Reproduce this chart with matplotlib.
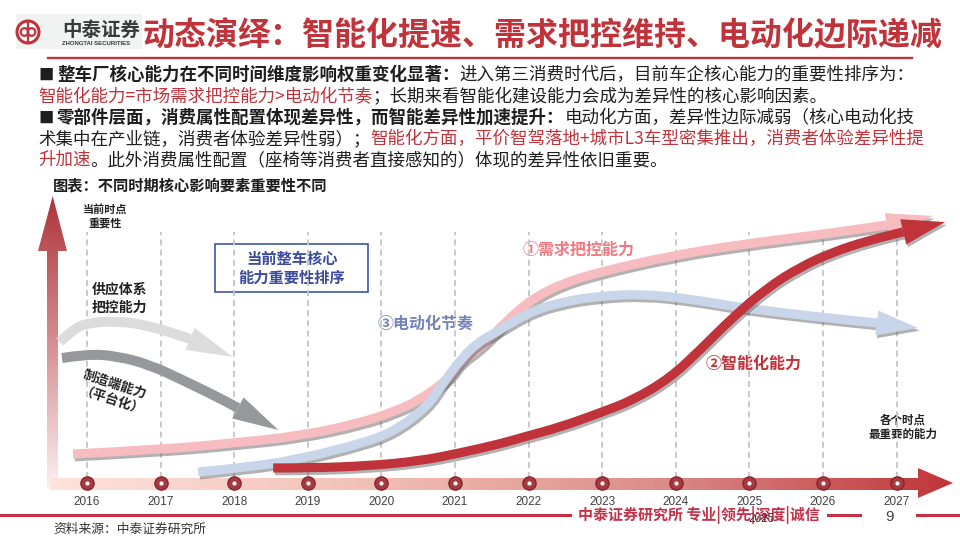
import numpy as np
import matplotlib
matplotlib.use('Agg')
import matplotlib.pyplot as plt
import matplotlib.patheffects as pe
from matplotlib.patches import Polygon, Rectangle, Circle, PathPatch
from matplotlib.path import Path
from matplotlib.colors import LinearSegmentedColormap

plt.rcParams['font.family'] = ['Noto Sans CJK SC', 'DejaVu Sans']

# ---- data (year, importance) ----
years = list(range(2016, 2028))

demand_x = [2015.81, 2017.09, 2017.98, 2018.89, 2019.71, 2020.16, 2020.52, 2020.93, 2021.07,
            2021.34, 2021.61, 2021.98, 2022.43, 2022.97, 2023.92, 2024.91, 2025.92, 2026.87, 2027.49]
demand_y = [12.4, 14.1, 16.2, 18.6, 23.1, 26.9, 31.0, 38.6, 44.1,
            49.0, 55.9, 64.8, 71.0, 75.2, 80.7, 84.8, 87.9, 91.4, 94.5]

elec_x = [2017.51, 2018.21, 2018.89, 2019.71, 2020.16, 2020.62, 2020.84, 2021.07, 2021.30,
          2021.52, 2021.98, 2022.43, 2022.97, 2023.55, 2024.19, 2024.91, 2025.92, 2026.73, 2027.29]
elec_y = [6.2, 7.9, 10.7, 15.9, 20.0, 28.6, 36.9, 44.8, 50.7,
          53.8, 61.0, 64.8, 66.9, 67.6, 65.9, 62.8, 59.7, 57.6, 55.9]

intel_x = [2018.53, 2019.04, 2019.80, 2020.52, 2021.07, 2021.61, 2021.98, 2022.43, 2022.97, 2023.42,
           2023.92, 2024.33, 2024.78, 2025.24, 2025.69, 2026.14, 2026.60, 2027.09, 2027.66]
intel_y = [7.6, 7.6, 8.3, 10.0, 12.8, 15.9, 18.6, 21.7, 26.6, 31.0,
           38.6, 48.3, 59.7, 69.7, 76.9, 82.1, 85.9, 89.0, 92.4]

supply_x = [2015.63, 2015.80, 2016.00, 2016.41, 2016.86, 2017.40, 2017.98]
supply_y = [51.0, 55.2, 57.6, 58.3, 56.6, 52.1, 45.9]

manuf_x = [2015.66, 2016.00, 2016.41, 2016.86, 2017.30, 2017.77, 2018.05, 2018.60]
manuf_y = [45.5, 46.9, 46.2, 43.1, 37.9, 32.1, 28.3, 20.7]

timeline_level = 2.4

RED = '#c0333a'

fig = plt.figure(figsize=(9.6, 5.4), dpi=100)
fig.patch.set_facecolor('white')

# background axes in slide pixels
bg = fig.add_axes([0, 0, 1, 1])
bg.set_xlim(0, 960)
bg.set_ylim(540, 0)
bg.axis('off')


def grad_poly(ax, verts, colors, horizontal, z):
    poly = Polygon(verts, closed=True, fc='none', ec='none')
    ax.add_patch(poly)
    xs, ys = zip(*verts)
    g = np.linspace(0, 1, 256)
    img = g[None, :] if horizontal else g[:, None]
    cmap = LinearSegmentedColormap.from_list('g', colors)
    im = ax.imshow(img, cmap=cmap, extent=(min(xs), max(xs), max(ys), min(ys)),
                   aspect='auto', interpolation='bilinear', zorder=z)
    im.set_clip_path(poly)


# vertical importance arrow and timeline arrow
grad_poly(bg, [(47, 488), (47, 251), (38, 251), (52.7, 196), (67, 251), (58, 251), (58, 488)],
          ['#ad3439', '#d58e91', '#fcf0f0'], False, 2)
grad_poly(bg, [(50, 478), (918, 478), (918, 468), (953, 483), (918, 498), (918, 490), (50, 490)],
          ['#fde3dc', '#f2c2b8', '#dc8f8c', '#c0353a'], True, 2)
bg.set_xlim(0, 960)
bg.set_ylim(540, 0)

# logo
bg.add_patch(Rectangle((16, 14), 126, 35, fc='#f1f2f2', ec='none'))
bg.add_patch(Circle((28, 32), 11, fc='white', ec=RED, lw=2.2))
bg.add_patch(Circle((24.5, 32), 3.8, fc='none', ec=RED, lw=1.6))
bg.add_patch(Circle((31.5, 32), 3.8, fc='none', ec=RED, lw=1.6))
bg.plot([28, 28], [22, 42], color=RED, lw=1.6)
bg.text(62, 30, '中泰证券', fontsize=14, fontweight='bold', color='#3a3a3a', va='center')
bg.text(62, 43.5, 'ZHONGTAI SECURITIES', fontsize=4.3, fontweight='bold', color='#3a3a3a',
        va='center', family='Liberation Sans')

# title
bg.text(142, 36, '动态演绎：智能化提速、需求把控维持、电动化边际递减', fontsize=23,
        fontweight='bold', color=RED, va='center')
bg.plot([48, 912], [58, 58], color=RED, lw=1.7)

renderer = fig.canvas.get_renderer()


def put_line(x, y, segs, size=12.6):
    for txt, color, bold in segs:
        t = bg.text(x, y, txt, fontsize=size, color=color, va='center',
                    fontweight='bold' if bold else 'normal')
        x += t.get_window_extent(renderer).width


DARK = '#1e1e1e'
bg.text(38, 75, '■', fontsize=11, color=DARK, va='center')
put_line(57, 75, [('整车厂核心能力在不同时间维度影响权重变化显著：', DARK, True),
                  ('进入第三消费时代后，目前车企核心能力的重要性排序为：', DARK, False)])
put_line(38, 97, [('智能化能力=市场需求把控能力>电动化节奏', RED, False),
                  ('；长期来看智能化建设能力会成为差异性的核心影响因素。', DARK, False)])
bg.text(38, 118, '■', fontsize=11, color=DARK, va='center')
put_line(57, 118, [('零部件层面，消费属性配置体现差异性，而智能差异性加速提升：', DARK, True),
                   ('电动化方面，差异性边际减弱（核心电动化技', DARK, False)])
put_line(38, 139, [('术集中在产业链，消费者体验差异性弱）；', DARK, False),
                   ('智能化方面，平价智驾落地+城市L3车型密集推出，消费者体验差异性提', RED, False)])
put_line(38, 160, [('升加速', RED, False),
                   ('。此外消费属性配置（座椅等消费者直接感知的）体现的差异性依旧重要。', DARK, False)])

bg.text(53, 185, '图表：不同时期核心影响要素重要性不同', fontsize=11, fontweight='bold',
        color=DARK, va='center')

# chart annotations
bg.text(105, 209, '当前时点', fontsize=8, fontweight='bold', color='#222', ha='center', va='center')
bg.text(105, 223, '重要性', fontsize=8, fontweight='bold', color='#222', ha='center', va='center')
bg.text(92, 290, '供应体系', fontsize=10, fontweight='bold', color='#222', va='center')
bg.text(92, 308, '把控能力', fontsize=10, fontweight='bold', color='#222', va='center')
bg.text(115, 384, '制造端能力', fontsize=9.5, fontweight='bold', color='#222', ha='center',
        va='center', rotation=-18, rotation_mode='anchor')
bg.text(111, 402, '（平台化）', fontsize=9.5, fontweight='bold', color='#222', ha='center',
        va='center', rotation=-18, rotation_mode='anchor')
bg.add_patch(Rectangle((215, 244), 153, 48, fill=False, ec='#3d56a6', lw=1.2))
bg.text(292, 259, '当前整车核心', fontsize=11, fontweight='bold', color='#3c4b9c', ha='center', va='center')
bg.text(292, 278, '能力重要性排序', fontsize=11, fontweight='bold', color='#3c4b9c', ha='center', va='center')
bg.text(378, 324, '③电动化节奏', fontsize=11.5, fontweight='bold', color='#7584b8', va='center')
bg.text(523, 250, '①需求把控能力', fontsize=11.5, fontweight='bold', color='#ef7b82', va='center')
bg.text(706, 364, '②智能化能力', fontsize=11.5, fontweight='bold', color=RED, va='center')
bg.text(903, 420, '各个时点', fontsize=8.3, fontweight='bold', color='#222', ha='center', va='center')
bg.text(903, 434, '最重要的能力', fontsize=8.3, fontweight='bold', color='#222', ha='center', va='center')

# footer
for x0, x1 in [(0, 570), (828, 860), (917, 960)]:
    bg.plot([x0, x1], [515, 515], color='#c4324a', lw=2.2)
bg.text(699, 515, '中泰证券研究所 专业|领先|深度|诚信', fontsize=10.8, fontweight='bold',
        color='#c4324a', ha='center', va='center')
bg.text(762, 519, '2025', fontsize=8.5, color='#333', ha='center', va='center', family='Liberation Sans')
bg.text(889, 517, '9', fontsize=11, color='#444', ha='center', va='center', family='Liberation Sans')
bg.text(53, 529, '资料来源：中泰证券研究所', fontsize=9.2, color='#333', va='center')

# ---- chart axes: x in years, y in importance ----
ax = fig.add_axes([0, 0, 1, 1])
ax.patch.set_alpha(0)
ax.set_xlim(2016 - 87 / 73.6, 2016 + 873 / 73.6)
ax.set_ylim((490 - 540) / 2.9, 490 / 2.9)
ax.axis('off')

ax.vlines(years, 4.1, 89, colors='#c5c5c5', linestyles=(0, (3.3, 2.3)), lw=1.3, zorder=1)
ax.plot(years, [timeline_level] * len(years), 'o', ms=9.5, mfc='#a63a40', mec='#8a2530',
        mew=1, zorder=6)
ax.plot(years, [timeline_level] * len(years), 'o', ms=3, mfc='white', mec='none', zorder=7)
for yr in years:
    ax.text(yr, -4.1, str(yr), ha='center', va='center', fontsize=8.5, color='#404040',
            family='Liberation Sans')


def smooth_path(xs, ys):
    # quadratic bezier through midpoints, the read points act as control points
    pts = list(zip(xs, ys))
    verts = [pts[0]]
    codes = [Path.MOVETO]
    for i in range(1, len(pts) - 1):
        mid = ((pts[i][0] + pts[i + 1][0]) / 2, (pts[i][1] + pts[i + 1][1]) / 2)
        verts += [pts[i], mid]
        codes += [Path.CURVE3, Path.CURVE3]
    verts.append(pts[-1])
    codes.append(Path.LINETO)
    return Path(verts, codes)


def draw_arrow(xs, ys, color, lw, hw, z, shadow=True):
    eff = [pe.SimpleLineShadow(offset=(1.2, -2), shadow_color='#555555', alpha=0.45), pe.Normal()] if shadow else None
    body = PathPatch(smooth_path(xs[:-1], ys[:-1]), fc='none', ec=color, lw=lw, zorder=z,
                     capstyle='butt', joinstyle='round', path_effects=eff)
    ax.add_patch(body)
    b = ax.transData.transform((xs[-2], ys[-2]))
    t = ax.transData.transform((xs[-1], ys[-1]))
    d = t - b
    n = np.array([-d[1], d[0]]) / np.hypot(*d) * hw
    tri = ax.transData.inverted().transform([b + n, t, b - n])
    peff = [pe.SimplePatchShadow(offset=(1.2, -2), shadow_rgbFace='#555555', alpha=0.45), pe.Normal()] if shadow else None
    ax.add_patch(Polygon(tri, closed=True, fc=color, ec='none', zorder=z, path_effects=peff))


draw_arrow(supply_x, supply_y, '#dcdcdc', 7.2, 12, 3, shadow=False)
draw_arrow(manuf_x, manuf_y, '#97989c', 7.2, 12, 3, shadow=False)
draw_arrow(demand_x, demand_y, '#f7bcc0', 6.6, 12, 4)
draw_arrow(elec_x, elec_y, '#c9d6ea', 6.6, 12.5, 5)
draw_arrow(intel_x, intel_y, '#c1333b', 6.6, 13, 5.5)

fig.savefig('out.png', dpi=100, facecolor='white')
